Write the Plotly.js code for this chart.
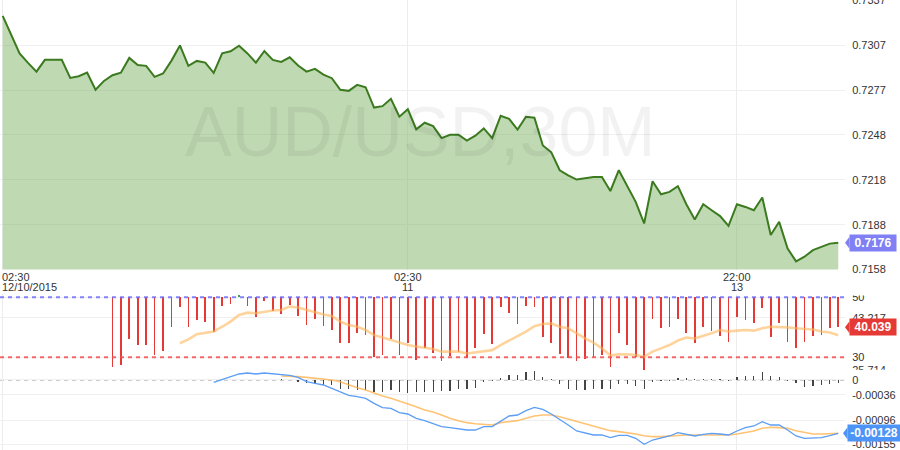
<!DOCTYPE html>
<html><head><meta charset="utf-8">
<script src="https://cdn.plot.ly/plotly-3.0.1.min.js"></script>
<style>html,body{margin:0;padding:0;background:#fff;overflow:hidden}#chart{width:900px;height:450px}</style>
</head><body><div id="chart"></div>
<script>
// ---------- data ----------
const symbol = 'AUD/USD,30M';
const price = [
 0.73267,0.73146,0.73017,0.72954,0.72896,0.72974,0.72974,0.72974,0.72854,0.72865,
 0.72889,0.72775,0.72834,0.72872,0.72889,0.72987,0.72940,0.72934,0.72861,0.72883,
 0.72969,0.73070,0.72934,0.72967,0.72956,0.72887,0.73017,0.73031,0.73068,0.73017,
 0.72956,0.73033,0.72974,0.72960,0.72991,0.72936,0.72896,0.72914,0.72876,0.72852,
 0.72775,0.72768,0.72808,0.72792,0.72657,0.72666,0.72715,0.72596,0.72646,0.72512,
 0.72556,0.72533,0.72454,0.72476,0.72476,0.72437,0.72470,0.72518,0.72454,0.72602,
 0.72582,0.72510,0.72596,0.72589,0.72405,0.72359,0.72240,0.72206,0.72178,0.72189,
 0.72195,0.72195,0.72102,0.72240,0.72136,0.72030,0.71886,0.72167,0.72080,0.72096,
 0.72134,0.72014,0.71913,0.72014,0.71974,0.71935,0.71870,0.72014,0.71996,0.71974,
 0.72059,0.71809,0.71897,0.71720,0.71634,0.71665,0.71709,0.71731,0.71752,0.71758];

const rsiStart = 13;
const rsi = [
 26.9,27.4,36.1,34.1,34.1,30.8,32.2,40,46.9,40,42.4,41.7,38.6,47.2,47.8,50.8,47.2,
 43.6,48.9,45.6,44.4,47.4,43.9,40.8,42.8,40.6,39.1,34.9,34.7,38.2,37.4,30.2,30.8,
 36.1,30.8,34.7,29.1,33,31.3,28.9,30.6,31.9,29.7,33,37.7,34.3,46.7,44.7,41.1,47.2,
 46.9,36.9,34.7,31,29.7,28.8,29.3,30,30.8,26.7,38.2,34.1,30.2,25.714,42.7,39.7,40.2,
 42.7,38,34.7,40.2,38.9,37.2,35.2,43.6,42.4,41.6,46.3,36.9,41.3,35.2,33,35.2,37.2,
 37.4,39.7,40.039];

const rsiMaStart = 21;
const rsiMa = [
 34.7,36,37.7,38.2,38.6,40.2,41.9,44.1,44.9,44.7,45.2,45.6,45.8,46.9,46.6,45.8,44.9,
 44.3,43.8,41.9,40.8,40.2,39.1,37.4,36.6,35.8,34.9,34.1,33.6,33.3,32.8,31.9,31.9,
 31.9,31.3,31.7,32.1,32.4,34.1,35.6,37.1,38.6,40.4,41.1,41.3,40.2,39.7,38,36.3,34.9,
 33,30.6,31,31,30.8,30.2,31.9,33,34.1,35.6,36.6,36.3,37.1,38,39.1,38.6,38.9,39.1,
 38.9,39.7,40.2,40.2,40,39.7,39.6,39.3,38.6,38.3,37.4];

const macdStart = 25;
const macd = [
 -0.000056,0.000016,0.00008,0.000144,0.000168,0.000144,0.000168,0.000144,0.00012,
 0.000112,0.000064,-0.00004,-0.00008,-0.00012,-0.0002,-0.00028,-0.000368,-0.0004,
 -0.00044,-0.00056,-0.000664,-0.00068,-0.000784,-0.000816,-0.00092,-0.000976,-0.00104,
 -0.00112,-0.001144,-0.001168,-0.0012,-0.0012,-0.00112,-0.00112,-0.000984,-0.000864,
 -0.00084,-0.000736,-0.000656,-0.000704,-0.000816,-0.000944,-0.00108,-0.001224,
 -0.001264,-0.00132,-0.00132,-0.001384,-0.001328,-0.001328,-0.0014,-0.001544,-0.00144,
 -0.0014,-0.001344,-0.001264,-0.001296,-0.001344,-0.001304,-0.00128,-0.001296,-0.00132,
 -0.001224,-0.001144,-0.001104,-0.001,-0.00108,-0.00108,-0.0012,-0.001344,-0.0014,
 -0.0014,-0.001384,-0.001336,-0.00128];

const signalStart = 33;
const signal = [
 0.000096,0.000096,0.00008,0.000064,0.000048,0.000032,0,-0.00004,-0.00012,-0.000184,
 -0.00024,-0.00032,-0.000384,-0.00044,-0.000504,-0.000576,-0.00064,-0.00072,-0.000768,
 -0.00084,-0.00092,-0.000976,-0.001024,-0.00105,-0.001056,-0.00108,-0.001024,-0.001,
 -0.000976,-0.00092,-0.000864,-0.00084,-0.00084,-0.00088,-0.000936,-0.001,-0.001056,
 -0.001104,-0.00116,-0.001216,-0.00124,-0.001264,-0.001296,-0.001336,-0.00136,-0.00136,
 -0.001344,-0.001336,-0.00132,-0.00132,-0.00132,-0.001304,-0.001304,-0.00132,-0.001296,
 -0.001264,-0.001224,-0.00116,-0.001136,-0.001144,-0.00116,-0.001216,-0.001264,
 -0.001296,-0.001296,-0.001296,-0.00128];

const histStart = 33;
const hist = [
 0.00002,0.00001,-0.00004,-0.00008,-0.000104,-0.00012,-0.00012,-0.000224,-0.000224,
 -0.00024,-0.00024,-0.00028,-0.00028,-0.00024,-0.00028,-0.00032,-0.00028,-0.00028,
 -0.00028,-0.000256,-0.000256,-0.000224,-0.000224,-0.0002,-0.00004,-0.000016,0.00004,
 0.00012,0.00012,0.0002,0.000216,0.000064,0.000016,-0.000104,-0.000224,-0.00024,
 -0.00024,-0.000224,-0.000216,-0.000216,-0.000096,-0.000096,-0.000136,-0.000224,
 -0.00004,-0.000016,-0.000016,0.000056,0.00004,0.000016,0.000016,0.000024,0.000032,
 -0.000024,0.00008,0.000096,0.000096,0.0002,0.000096,0.000064,-0.000032,-0.00008,
 -0.00016,-0.000144,-0.00012,-0.000096,-0.000064];

const xLabelIdx  = [0, 48, 87];
const xLabelTime = ['02:30', '02:30', '22:00'];
const xLabelDate = ['12/10/2015', '11', '13'];

const priceTicks    = [0.7158, 0.71878, 0.72177, 0.72475, 0.72773, 0.73072, 0.7337];
const priceTickText = ['0.7158','0.7188','0.7218','0.7248','0.7277','0.7307','0.7337'];
const rsiTicks    = [25.714, 30, 43.217, 50];
const rsiTickText = ['25.714', '30', '43.217', '50'];
const rsiLevels   = [50, 30];
const macdTicks    = [-0.00155, -0.00096, -0.00036, 0];
const macdTickText = ['-0.00155', '-0.00096', '-0.00036', '0'];

// ---------- helpers ----------
const W = 900, H = 450, PLOT_R = 845;
const px = p => p / PLOT_R;          // paper x spans the plot area (0..845 px)
const py = p => 1 - p / H;           // no top/bottom margins
const seq = (start, n) => Array.from({length: n}, (_, i) => start + i);
const FONT = 'Arial, "Liberation Sans", sans-serif';
const last = a => a[a.length - 1];

const traces = [
  {x: seq(0, price.length), y: price, type: 'scatter', mode: 'lines', fill: 'tozeroy',
   fillcolor: 'rgba(127,180,102,0.5)', line: {color: '#3b7a1f', width: 2},
   xaxis: 'x', yaxis: 'y', hoverinfo: 'skip'},
  {x: seq(rsiStart, rsi.length), y: rsi.map(v => v - 50), base: 50, type: 'bar',
   width: 0.2, marker: {color: rsi.map(v => v >= 50 ? '#43a047' : '#e53935')},
   xaxis: 'x', yaxis: 'y2', hoverinfo: 'skip'},
  {x: seq(rsiMaStart, rsiMa.length), y: rsiMa, type: 'scatter', mode: 'lines',
   line: {color: 'rgba(255,183,90,0.6)', width: 2.6}, xaxis: 'x', yaxis: 'y2', hoverinfo: 'skip'},
  {x: seq(histStart, hist.length), y: hist, type: 'bar', width: 0.15,
   marker: {color: '#444'}, xaxis: 'x', yaxis: 'y3', hoverinfo: 'skip'},
  {x: seq(signalStart, signal.length), y: signal, type: 'scatter', mode: 'lines',
   line: {color: 'rgba(255,175,70,0.75)', width: 1.6}, xaxis: 'x', yaxis: 'y3', hoverinfo: 'skip'},
  {x: seq(macdStart, macd.length), y: macd, type: 'scatter', mode: 'lines',
   line: {color: '#5c9df5', width: 1.3}, xaxis: 'x', yaxis: 'y3', hoverinfo: 'skip'}
];

const yCommon = {side: 'right', anchor: 'x', showline: false, zeroline: false, automargin: false,
  ticks: 'outside', ticklen: 4, tickcolor: 'rgba(0,0,0,0)', gridcolor: '#efefef',
  ticklabeloverflow: 'allow',
  tickfont: {family: FONT, size: 11, color: '#333'}, fixedrange: true, tickmode: 'array'};

const annotations = [
  {text: symbol, xref: 'paper', yref: 'paper', x: px(420), y: py(132), xanchor: 'center',
   yanchor: 'middle', showarrow: false, font: {family: FONT, size: 70, color: 'rgba(0,0,0,0.05)'}}
];
xLabelIdx.forEach((xi, i) => {
  const first = i === 0;
  const base = {xref: first ? 'paper' : 'x', x: first ? 0 : xi, xanchor: first ? 'left' : 'center',
    yref: 'paper', yanchor: 'middle', showarrow: false,
    font: {family: FONT, size: 11, color: '#333'}};
  annotations.push(Object.assign({}, base, {text: xLabelTime[i], y: py(276.5)}));
  annotations.push(Object.assign({}, base, {text: xLabelDate[i], y: py(287)}));
});

const badges = [
  {val: last(price), txt: last(price).toFixed(4), yref: 'y', color: '#8080f4', x: 849, w: 44},
  {val: last(rsi), txt: last(rsi).toFixed(3), yref: 'y2', color: '#e53935', x: 849, w: 44},
  {val: last(macd), txt: last(macd).toFixed(5), yref: 'y3', color: '#4d94f7', x: 847, w: 50}
];
const shapes = [];
badges.forEach(b => {
  annotations.push({text: '<b>' + b.txt + '</b>', xref: 'paper', x: px(b.x), xanchor: 'left',
    yref: b.yref, y: b.val, yanchor: 'middle', showarrow: false, bgcolor: b.color,
    borderpad: 1, width: b.w, align: 'center', font: {family: FONT, size: 12, color: '#fff'}});
  shapes.push({type: 'path', xref: 'paper', yref: b.yref, xsizemode: 'pixel', ysizemode: 'pixel',
    xanchor: px(b.x), yanchor: b.val, path: 'M -4 0 L 0.5 6 L 0.5 -6 Z',
    fillcolor: b.color, line: {width: 0}, layer: 'above'});
});
// dashed level lines
shapes.push({type: 'line', xref: 'paper', yref: 'y2', x0: 0, x1: 1, y0: rsiLevels[0], y1: rsiLevels[0],
  line: {color: 'rgba(110,110,250,0.85)', width: 2, dash: '4px,4px'}, layer: 'above'});
shapes.push({type: 'line', xref: 'paper', yref: 'y2', x0: 0, x1: 1, y0: rsiLevels[1], y1: rsiLevels[1],
  line: {color: 'rgba(240,80,80,0.85)', width: 2, dash: '4px,4px'}, layer: 'above'});
shapes.push({type: 'line', xref: 'paper', yref: 'y3', x0: 0, x1: 1, y0: 0, y1: 0,
  line: {color: '#999', width: 1, dash: '4px,4px'}, layer: 'below'});
// clip the RSI panel labels at the panel edges
shapes.push({type: 'rect', xref: 'paper', yref: 'paper', x0: px(846), x1: px(900), y0: py(295.5), y1: py(286),
  fillcolor: '#fff', line: {width: 0}, layer: 'above'});
shapes.push({type: 'rect', xref: 'paper', yref: 'paper', x0: px(846), x1: px(900), y0: py(374), y1: py(369.8),
  fillcolor: '#fff', line: {width: 0}, layer: 'above'});

const layout = {
  width: W, height: H, margin: {l: 0, r: W - PLOT_R, t: 0, b: 0, autoexpand: false},
  paper_bgcolor: '#fff', plot_bgcolor: '#fff', showlegend: false, bargap: 0,
  barmode: 'overlay', hovermode: false,
  xaxis: {domain: [0, 1], range: [-0.32, 99.8], anchor: 'y', showticklabels: false,
    ticks: '', tickmode: 'array', tickvals: xLabelIdx, showgrid: true, gridcolor: '#ececec',
    zeroline: false, showline: false, fixedrange: true, automargin: false},
  yaxis: Object.assign({}, yCommon, {domain: [py(269.5), 1], range: [0.7158, 0.73372],
    tickvals: priceTicks, ticktext: priceTickText}),
  yaxis2: Object.assign({}, yCommon, {domain: [py(370.2), py(294)], range: [25.714, 51.114],
    tickvals: rsiTicks, ticktext: rsiTickText}),
  yaxis3: Object.assign({}, yCommon, {domain: [0, py(370.2)], range: [-0.00168, 0.000235],
    tickvals: macdTicks, ticktext: macdTickText}),
  annotations: annotations, shapes: shapes
};

Plotly.newPlot('chart', traces, layout, {displayModeBar: false, staticPlot: true});
</script></body></html>
